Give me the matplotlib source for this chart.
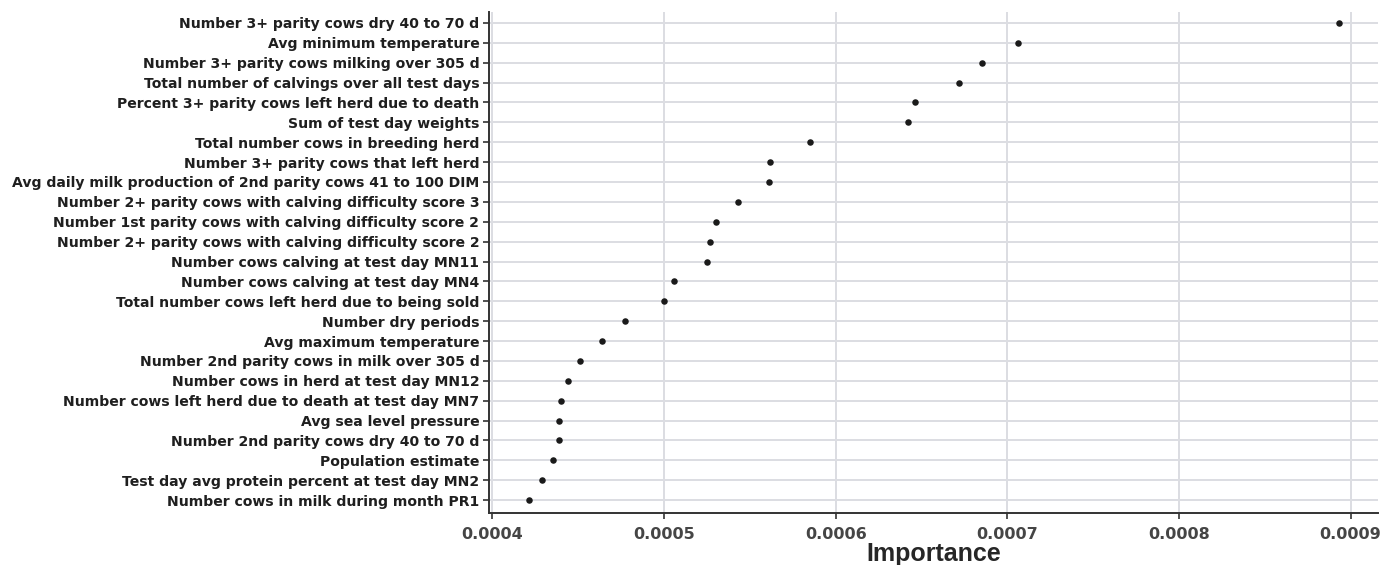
import matplotlib
matplotlib.use('Agg')
from matplotlib import pyplot as plt
import numpy as np

# feature names, top to bottom
features = [
    'Number 3+ parity cows dry 40 to 70 d',
    'Avg minimum temperature',
    'Number 3+ parity cows milking over 305 d',
    'Total number of calvings over all test days',
    'Percent 3+ parity cows left herd due to death',
    'Sum of test day weights',
    'Total number cows in breeding herd',
    'Number 3+ parity cows that left herd',
    'Avg daily milk production of 2nd parity cows 41 to 100 DIM',
    'Number 2+ parity cows with calving difficulty score 3',
    'Number 1st parity cows with calving difficulty score 2',
    'Number 2+ parity cows with calving difficulty score 2',
    'Number cows calving at test day MN11',
    'Number cows calving at test day MN4',
    'Total number cows left herd due to being sold',
    'Number dry periods',
    'Avg maximum temperature',
    'Number 2nd parity cows in milk over 305 d',
    'Number cows in herd at test day MN12',
    'Number cows left herd due to death at test day MN7',
    'Avg sea level pressure',
    'Number 2nd parity cows dry 40 to 70 d',
    'Population estimate',
    'Test day avg protein percent at test day MN2',
    'Number cows in milk during month PR1',
]
importance = [
    0.000893, 0.000706, 0.000685, 0.000672, 0.000646,
    0.000642, 0.000585, 0.000562, 0.000561, 0.000543,
    0.000530, 0.000527, 0.000525, 0.000506, 0.000500,
    0.000477, 0.000464, 0.000451, 0.000444, 0.000440,
    0.000439, 0.000439, 0.000435, 0.000429, 0.000421,
]
xticks = [0.0004, 0.0005, 0.0006, 0.0007, 0.0008, 0.0009]
xticklabels = ['0.0004', '0.0005', '0.0006', '0.0007', '0.0008', '0.0009']

plt.rcParams['font.family'] = ['DejaVu Sans']

fig = plt.figure(figsize=(13.83, 5.65), dpi=100)
ax = fig.add_axes([0.3536, 0.092, 0.6428, 0.8868])

pos = np.arange(len(features))[::-1]
ax.scatter(importance, pos, s=22, color='#1a1a1a', zorder=3, linewidths=0)

ax.set_yticks(pos)
ax.set_yticklabels(features, fontsize=10.1, fontweight='bold', color='#1f1f1f')
ax.set_xticks(xticks)
ax.set_xticklabels(xticklabels, fontsize=11.5, fontweight='bold', color='#454545')
ax.set_xlim(0.000398, 0.000916)
ax.set_ylim(-0.65, len(features) - 1 + 0.55)

ax.grid(True, color='#dcdde2', linewidth=1.4)
ax.set_axisbelow(True)
for side in ['top', 'right']:
    ax.spines[side].set_visible(False)
for side in ['left', 'bottom']:
    ax.spines[side].set_color('#333333')
    ax.spines[side].set_linewidth(1.4)
ax.tick_params(axis='both', length=4, width=1.2, color='#333333')
ax.tick_params(axis='y', pad=3)
ax.tick_params(axis='x', pad=6)

ax.set_xlabel('Importance', fontsize=18, fontweight='bold', color='#262626',
              family='Liberation Sans', labelpad=0)

plt.savefig('out.png', dpi=100)
